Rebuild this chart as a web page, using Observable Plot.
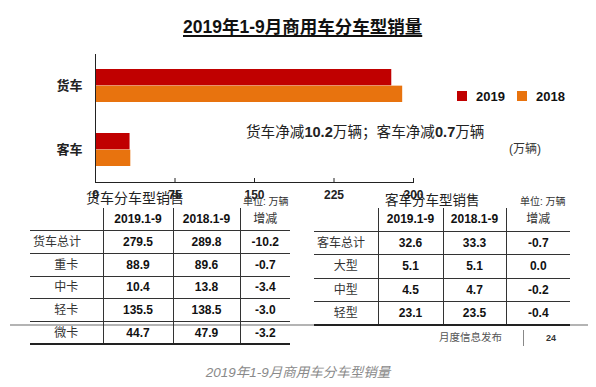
<!DOCTYPE html>
<html>
<head>
<meta charset="utf-8">
<script src="https://cdn.jsdelivr.net/npm/d3@7"></script>
<script src="https://cdn.jsdelivr.net/npm/@observablehq/plot@0.6"></script>
<style>
  html, body { margin: 0; padding: 0; background: #fff; }
  #wrap { position: relative; width: 596px; height: 387px; overflow: hidden; background: #fff;
          font-family: "Liberation Sans", Arial, "Noto Sans CJK SC", sans-serif; color: #222; }
  .abs { position: absolute; white-space: nowrap; line-height: 1; }
  #chart { position: absolute; left: 0; top: 0; }
  table.t { position: absolute; border-collapse: collapse; table-layout: fixed;
            font-family: "Liberation Sans", Arial, "Noto Sans CJK SC", sans-serif; }
  table.t td { padding: 0; text-align: center; font-size: 12px; line-height: 1;
               border-bottom: 1px solid #333; border-left: 1px solid #333; box-sizing: border-box; }
  table.t td:first-child { border-left: none; }
  table.t tr:first-child td { border-top: 2px solid #222; }
  table.t tr:last-child td { border-bottom: 2px solid #222; }
  td.v { font-weight: bold; color: #111; }
  td.h { font-weight: bold; color: #111; }
  td.hn { color: #333; }
  td.l { color: #333; }
  td.lt { text-align: left !important; padding-left: 3px !important; color: #333; }
</style>
</head>
<body>
<div id="wrap"></div>
<script>
// ---- chart data ----
const categories = ["货车", "客车"];
const years = ["2019", "2018"];
const sales2019 = [279.5, 32.6];
const sales2018 = [289.8, 33.3];
const xTicks = [0, 75, 150, 225, 300];
const seriesColors = ["#C00000", "#E8730E"];

// ---- table data ----
const tableHeader = ["", "2019.1-9", "2018.1-9", "增减"];
const truckRows = ["货车总计", "重卡", "中卡", "轻卡", "微卡"];
const truck2019 = [279.5, 88.9, 10.4, 135.5, 44.7];
const truck2018 = [289.8, 89.6, 13.8, 138.5, 47.9];
const truckDiff = ["-10.2", "-0.7", "-3.4", "-3.0", "-3.2"];
const busRows = ["客车总计", "大型", "中型", "轻型"];
const bus2019 = [32.6, 5.1, 4.5, 23.1];
const bus2018 = [33.3, 5.1, 4.7, 23.5];
const busDiff = ["-0.7", "0.0", "-0.2", "-0.4"];

// ---- texts ----
const titleText = "2019年1-9月商用车分车型销量";
const noteParts = [["货车净减", false], ["10.2", true], ["万辆；客车净减", false], ["0.7", true], ["万辆", false]];
const unitText = "(万辆)";
const truckTitle = "货车分车型销售";
const busTitle = "客车分车型销售";
const tableUnit = "单位: 万辆";
const footerText = "月度信息发布";
const pageNum = "24";
const captionText = "2019年1-9月商用车分车型销量";

const wrap = document.getElementById("wrap");
function addText(txt, css) {
  const d = document.createElement("div");
  d.className = "abs";
  d.textContent = txt;
  Object.assign(d.style, css);
  wrap.appendChild(d);
  return d;
}

// ---- bar chart ----
const H = 200, mTop = 54, mBottom = 18, pInner = 0.48, pOuter = 0.24;
const step = (H - mTop - mBottom) / (categories.length - pInner + 2 * pOuter);
const bw = step * (1 - pInner);

const rows = categories.flatMap((c, i) => [
  {cat: c, year: years[0], value: sales2019[i]},
  {cat: c, year: years[1], value: sales2018[i]}
]);

const chart = Plot.plot({
  width: 596, height: H,
  marginLeft: 95, marginRight: 183, marginTop: mTop, marginBottom: mBottom,
  style: {fontFamily: "'Liberation Sans', Arial, 'Noto Sans CJK SC', sans-serif", background: "transparent", overflow: "visible", color: "#222"},
  x: {domain: [0, 300], axis: null},
  y: {domain: categories, paddingInner: pInner, paddingOuter: pOuter, axis: null},
  color: {domain: years, range: seriesColors},
  marks: [
    Plot.barX(rows.filter(d => d.year === years[0]), {x: "value", y: "cat", fill: "year", insetBottom: bw / 2}),
    Plot.barX(rows.filter(d => d.year === years[1]), {x: "value", y: "cat", fill: "year", insetTop: bw / 2}),
    Plot.ruleX([0], {stroke: "#222", strokeWidth: 1}),
    Plot.frame({anchor: "bottom", stroke: "#222", strokeWidth: 1}),
    Plot.tickX(xTicks.slice(1), {x: d => d, stroke: "#222", insetTop: (H - mTop - mBottom) - 4}),
    Plot.axisX(xTicks, {tickSize: 0, tickPadding: 8, fontWeight: "bold", fontSize: 12, label: null, fill: "#222"}),
    Plot.axisY({tickSize: 0, tickPadding: 13, fontWeight: "bold", fontSize: 13, label: null, fill: "#222"})
  ]
});
chart.id = "chart";
wrap.appendChild(chart);

// ---- title ----
addText(titleText, {left: "183px", top: "19px", fontSize: "17.5px", fontWeight: "bold", textDecoration: "underline",
  textDecorationThickness: "1.5px", textUnderlineOffset: "2px", color: "#111"});

// ---- legend ----
const legX = [457, 517];
years.forEach((y, i) => {
  const sq = document.createElement("div");
  Object.assign(sq.style, {position: "absolute", left: legX[i] + "px", top: "91px", width: "10px", height: "10px", background: seriesColors[i]});
  wrap.appendChild(sq);
  addText(y, {left: (legX[i] + 19) + "px", top: "90px", fontSize: "13px", fontWeight: "bold", color: "#111"});
});

// ---- annotation ----
const note = document.createElement("div");
note.className = "abs";
Object.assign(note.style, {left: "246px", top: "125px", fontSize: "14.6px", color: "#222"});
noteParts.forEach(([t, b]) => {
  const s = document.createElement("span");
  s.textContent = t;
  if (b) s.style.fontWeight = "bold";
  note.appendChild(s);
});
wrap.appendChild(note);
addText(unitText, {left: "509px", top: "143px", fontSize: "12px", color: "#333"});

// ---- footer line ----
const fl = document.createElement("div");
Object.assign(fl.style, {position: "absolute", left: "10px", top: "324px", width: "578px", height: "2px", background: "#b4b4b4"});
wrap.appendChild(fl);

// ---- tables ----
function makeTable(labels, a, b, diff, left, top, widths, rowH) {
  const t = document.createElement("table");
  t.className = "t";
  t.style.left = left + "px";
  t.style.top = top + "px";
  const cg = document.createElement("colgroup");
  widths.forEach(w => { const c = document.createElement("col"); c.style.width = w + "px"; cg.appendChild(c); });
  t.appendChild(cg);
  t.style.width = d3.sum(widths) + "px";
  const hr = document.createElement("tr");
  tableHeader.forEach((h, j) => {
    const td = document.createElement("td");
    td.textContent = h;
    td.className = j === 3 ? "hn" : "h";
    td.style.height = rowH + "px";
    hr.appendChild(td);
  });
  t.appendChild(hr);
  labels.forEach((lab, i) => {
    const tr = document.createElement("tr");
    const cells = [lab, a[i].toFixed(1), b[i].toFixed(1), diff[i]];
    cells.forEach((c, j) => {
      const td = document.createElement("td");
      td.textContent = c;
      td.className = j === 0 ? (i === 0 ? "lt" : "l") : "v";
      td.style.height = rowH + "px";
      tr.appendChild(td);
    });
    t.appendChild(tr);
  });
  wrap.appendChild(t);
}
makeTable(truckRows, truck2019, truck2018, truckDiff, 30, 208, [73, 70, 67, 50], 22.7);
makeTable(busRows, bus2019, bus2018, busDiff, 314, 208, [64, 65, 63, 64], 23.4);

// ---- table titles ----
addText(truckTitle, {left: "86px", top: "191px", fontSize: "14px", color: "#222"});
addText(tableUnit, {left: "243px", top: "197px", fontSize: "10px", color: "#333"});
addText(busTitle, {left: "385px", top: "194px", fontSize: "13.5px", color: "#222"});
addText(tableUnit, {left: "520px", top: "197px", fontSize: "10px", color: "#333"});

// ---- slide footer ----
addText(footerText, {left: "439px", top: "332px", fontSize: "10.5px", color: "#555"});
const bar = document.createElement("div");
Object.assign(bar.style, {position: "absolute", left: "523px", top: "330px", width: "1px", height: "16px", background: "#888"});
wrap.appendChild(bar);
addText(pageNum, {left: "546px", top: "334px", fontSize: "9px", fontWeight: "bold", color: "#333"});

// ---- caption ----
const cap = addText(captionText, {left: "298px", top: "366px", fontSize: "13.5px", fontStyle: "italic", color: "#8a8a8a"});
cap.style.transform = "translateX(-50%)";
</script>
</body>
</html>
